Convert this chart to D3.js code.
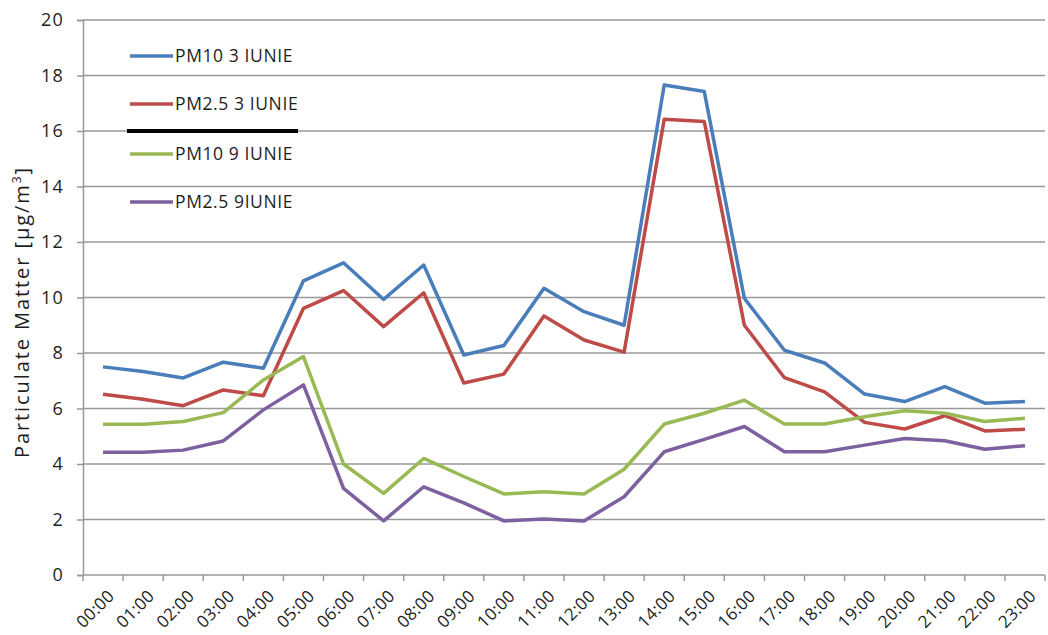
<!DOCTYPE html>
<html>
<head>
<meta charset="utf-8">
<script src="https://cdn.jsdelivr.net/npm/d3@7"></script>
<style>
  html, body { margin: 0; padding: 0; background: #fff; }
  svg { display: block; font-family: "Open Sans", sans-serif; }
</style>
</head>
<body>
<svg id="chart" width="1048" height="635"></svg>
<script>
const hours = [
  "00:00", "01:00", "02:00", "03:00", "04:00", "05:00", "06:00", "07:00",
  "08:00", "09:00", "10:00", "11:00", "12:00", "13:00", "14:00", "15:00",
  "16:00", "17:00", "18:00", "19:00", "20:00", "21:00", "22:00", "23:00",
];

const pm10June3 = [7.5, 7.33, 7.1, 7.67, 7.45, 10.6, 11.25, 9.93, 11.17, 7.93, 8.27, 10.33,
  9.49, 9.0, 17.66, 17.42, 9.97, 8.1, 7.64, 6.52, 6.25, 6.79, 6.19, 6.25];
const pm25June3 = [6.51, 6.33, 6.1, 6.67, 6.46, 9.61, 10.25, 8.95, 10.17, 6.92, 7.24, 9.33,
  8.47, 8.03, 16.42, 16.34, 9.0, 7.11, 6.6, 5.5, 5.26, 5.74, 5.19, 5.25];
const pm10June9 = [5.43, 5.43, 5.53, 5.85, 7.03, 7.87, 4.0, 2.94, 4.2, 3.55, 2.92, 3.0,
  2.92, 3.81, 5.44, 5.83, 6.3, 5.44, 5.44, 5.7, 5.92, 5.83, 5.53, 5.65];
const pm25June9 = [4.42, 4.42, 4.5, 4.83, 5.95, 6.85, 3.12, 1.95, 3.18, 2.6, 1.95, 2.02,
  1.95, 2.82, 4.44, 4.89, 5.35, 4.44, 4.44, 4.68, 4.92, 4.84, 4.53, 4.66];

const yTicks = [0, 2, 4, 6, 8, 10, 12, 14, 16, 18, 20];

const series = [
  { name: "PM10 3 IUNIE", values: pm10June3, color: "#4a7ebb" },
  { name: "PM2.5 3 IUNIE", values: pm25June3, color: "#be4b48" },
  { name: "PM10 9 IUNIE", values: pm10June9, color: "#98b954" },
  { name: "PM2.5 9IUNIE", values: pm25June9, color: "#7d60a0" },
];

const plot = { left: 83, right: 1045, top: 20, bottom: 575 };
const textColor = "#1e1e1e";
const gridColor = "#999999";

const svg = d3.select("#chart");

const x = d3.scaleBand().domain(hours).range([plot.left, plot.right]).padding(0);
const y = d3.scaleLinear().domain([0, 20]).range([plot.bottom, plot.top]);
const xCenter = (hour) => x(hour) + x.bandwidth() / 2;

// gridlines
svg.append("g")
  .selectAll("line")
  .data(yTicks.filter((t) => t > 0))
  .join("line")
  .attr("x1", plot.left)
  .attr("x2", plot.right)
  .attr("y1", (t) => y(t))
  .attr("y2", (t) => y(t))
  .attr("stroke", gridColor)
  .attr("stroke-width", 1.5);

// y axis
const yAxis = svg.append("g")
  .attr("transform", `translate(${plot.left},0)`)
  .call(d3.axisLeft(y).tickValues(yTicks).tickSize(6).tickPadding(13));

yAxis.select(".domain").attr("stroke", gridColor).attr("stroke-width", 1.5);
yAxis.selectAll(".tick line").attr("stroke", gridColor).attr("stroke-width", 1.5);
yAxis.selectAll(".tick text")
  .attr("fill", textColor)
  .attr("font-size", 18)
  .attr("font-family", "Open Sans, sans-serif")
  .attr("letter-spacing", 1.2);

// x axis: ticks sit on the category boundaries
const boundaries = hours.map((h) => x(h)).concat([plot.right]);
const xAxis = svg.append("g");

xAxis.append("line")
  .attr("x1", plot.left)
  .attr("x2", plot.right)
  .attr("y1", plot.bottom)
  .attr("y2", plot.bottom)
  .attr("stroke", gridColor)
  .attr("stroke-width", 1.5);

xAxis.selectAll(".xtick")
  .data(boundaries)
  .join("line")
  .attr("class", "xtick")
  .attr("x1", (d) => d)
  .attr("x2", (d) => d)
  .attr("y1", plot.bottom)
  .attr("y2", plot.bottom + 6)
  .attr("stroke", gridColor)
  .attr("stroke-width", 1.5);

xAxis.selectAll("text")
  .data(hours)
  .join("text")
  .attr("transform", (h) => `translate(${xCenter(h) + 8},${plot.bottom + 18}) rotate(-45)`)
  .attr("text-anchor", "end")
  .attr("dy", "0.35em")
  .attr("fill", textColor)
  .attr("font-size", 17)
  .attr("letter-spacing", 0.3)
  .text((h) => h);

// y axis title
svg.append("text")
  .attr("transform", `translate(29,${(168 + 458) / 2}) rotate(-90)`)
  .attr("text-anchor", "middle")
  .attr("fill", textColor)
  .attr("font-size", 20)
  .attr("textLength", 290)
  .attr("lengthAdjust", "spacing")
  .html("Particulate Matter [µg/m<tspan dy='-8' font-size='12'>3</tspan><tspan dy='8'>]</tspan>");

// series lines
const line = d3.line()
  .x((d, i) => xCenter(hours[i]))
  .y((d) => y(d));

svg.append("g")
  .selectAll("path")
  .data(series)
  .join("path")
  .attr("d", (s) => line(s.values))
  .attr("fill", "none")
  .attr("stroke", (s) => s.color)
  .attr("stroke-width", 3.5)
  .attr("stroke-linejoin", "round");

// legend
const legendY = [56, 104, 154, 202];
const legend = svg.append("g")
  .selectAll("g")
  .data(series)
  .join("g")
  .attr("transform", (s, i) => `translate(130,${legendY[i]})`);

legend.append("line")
  .attr("x1", 0)
  .attr("x2", 43)
  .attr("stroke", (s) => s.color)
  .attr("stroke-width", 3.5);

legend.append("text")
  .attr("x", 45)
  .attr("dy", "0.36em")
  .attr("fill", textColor)
  .attr("font-size", 17.5)
  .attr("letter-spacing", 0.6)
  .text((s) => s.name);

// thick black stroke across the legend
svg.append("line")
  .attr("x1", 127)
  .attr("x2", 298)
  .attr("y1", 131)
  .attr("y2", 131)
  .attr("stroke", "#000")
  .attr("stroke-width", 4);
</script>
</body>
</html>
